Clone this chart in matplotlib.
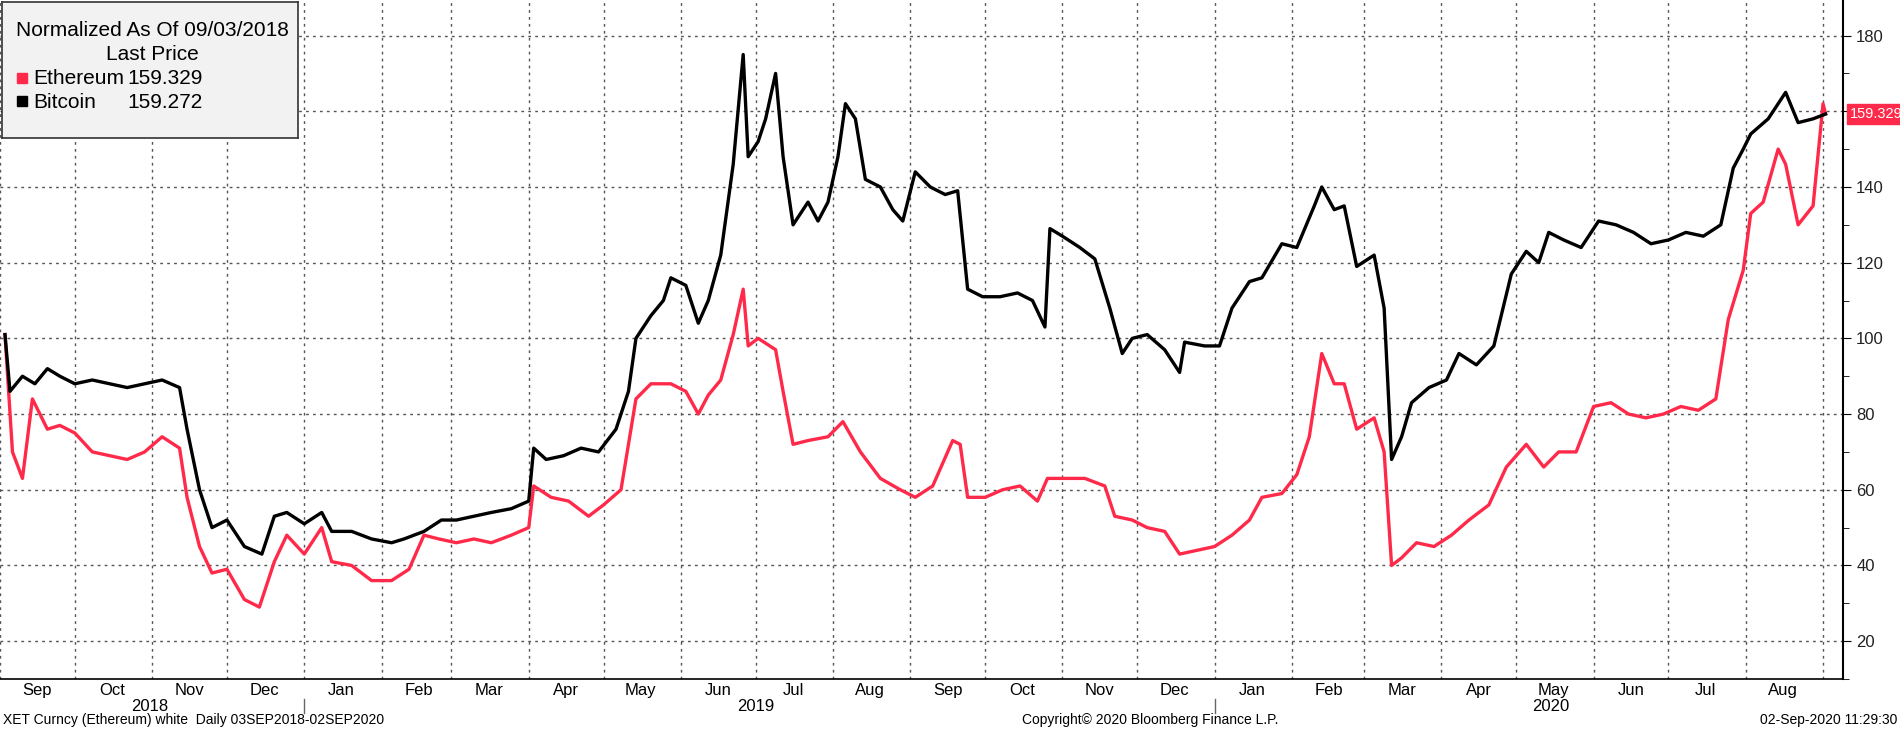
import matplotlib
matplotlib.use("Agg")
import matplotlib.pyplot as plt
import matplotlib.dates as mdates
import pandas as pd

plt.rcParams["font.family"] = "Liberation Sans"

btc_dates = ["2018-09-03","2018-09-05","2018-09-10","2018-09-15","2018-09-20","2018-09-25","2018-10-01","2018-10-08","2018-10-15","2018-10-22","2018-10-29","2018-11-05","2018-11-12","2018-11-15","2018-11-20","2018-11-25","2018-12-01","2018-12-08","2018-12-15","2018-12-20","2018-12-25","2019-01-01","2019-01-08","2019-01-12","2019-01-20","2019-01-28","2019-02-05","2019-02-10","2019-02-18","2019-02-25","2019-03-03","2019-03-10","2019-03-17","2019-03-25","2019-04-01","2019-04-03","2019-04-08","2019-04-15","2019-04-22","2019-04-29","2019-05-06","2019-05-11","2019-05-14","2019-05-20","2019-05-25","2019-05-28","2019-06-03","2019-06-08","2019-06-12","2019-06-17","2019-06-22","2019-06-26","2019-06-28","2019-07-02","2019-07-05","2019-07-09","2019-07-12","2019-07-16","2019-07-22","2019-07-26","2019-07-30","2019-08-03","2019-08-06","2019-08-10","2019-08-14","2019-08-20","2019-08-25","2019-08-29","2019-09-03","2019-09-09","2019-09-15","2019-09-20","2019-09-24","2019-09-30","2019-10-07","2019-10-14","2019-10-20","2019-10-25","2019-10-27","2019-11-01","2019-11-08","2019-11-14","2019-11-20","2019-11-25","2019-11-29","2019-12-05","2019-12-12","2019-12-18","2019-12-20","2019-12-28","2020-01-03","2020-01-08","2020-01-15","2020-01-20","2020-01-28","2020-02-03","2020-02-10","2020-02-13","2020-02-18","2020-02-22","2020-02-27","2020-03-05","2020-03-09","2020-03-12","2020-03-16","2020-03-20","2020-03-27","2020-04-03","2020-04-08","2020-04-15","2020-04-22","2020-04-29","2020-05-05","2020-05-10","2020-05-14","2020-05-20","2020-05-27","2020-06-03","2020-06-10","2020-06-17","2020-06-24","2020-07-01","2020-07-08","2020-07-15","2020-07-22","2020-07-27","2020-07-31","2020-08-03","2020-08-10","2020-08-17","2020-08-22","2020-08-28","2020-09-02"]
btc_values = [101,86,90,88,92,90,88,89,88,87,88,89,87,76,60,50,52,45,43,53,54,51,54,49,49,47,46,47,49,52,52,53,54,55,57,71,68,69,71,70,76,86,100,106,110,116,114,104,110,122,146,175,148,152,158,170,148,130,136,131,136,148,162,158,142,140,134,131,144,140,138,139,113,111,111,112,110,103,129,127,124,121,108,96,100,101,97,91,99,98,98,108,115,116,125,124,135,140,134,135,119,122,108,68,74,83,87,89,96,93,98,117,123,120,128,126,124,131,130,128,125,126,128,127,130,145,150,154,158,165,157,158,159.272]

eth_dates = ["2018-09-03","2018-09-06","2018-09-10","2018-09-14","2018-09-20","2018-09-25","2018-10-01","2018-10-08","2018-10-15","2018-10-22","2018-10-29","2018-11-05","2018-11-12","2018-11-15","2018-11-20","2018-11-25","2018-12-01","2018-12-08","2018-12-14","2018-12-20","2018-12-25","2019-01-01","2019-01-08","2019-01-12","2019-01-20","2019-01-28","2019-02-05","2019-02-12","2019-02-18","2019-02-24","2019-03-03","2019-03-10","2019-03-17","2019-03-25","2019-04-01","2019-04-03","2019-04-10","2019-04-17","2019-04-25","2019-05-01","2019-05-08","2019-05-14","2019-05-20","2019-05-28","2019-06-03","2019-06-08","2019-06-12","2019-06-17","2019-06-22","2019-06-26","2019-06-28","2019-07-02","2019-07-09","2019-07-12","2019-07-16","2019-07-22","2019-07-30","2019-08-05","2019-08-12","2019-08-20","2019-08-28","2019-09-03","2019-09-10","2019-09-18","2019-09-21","2019-09-24","2019-10-01","2019-10-08","2019-10-15","2019-10-22","2019-10-26","2019-11-03","2019-11-10","2019-11-18","2019-11-22","2019-11-29","2019-12-05","2019-12-12","2019-12-18","2019-12-25","2020-01-01","2020-01-08","2020-01-15","2020-01-20","2020-01-28","2020-02-03","2020-02-08","2020-02-13","2020-02-18","2020-02-22","2020-02-27","2020-03-05","2020-03-09","2020-03-12","2020-03-16","2020-03-22","2020-03-29","2020-04-05","2020-04-12","2020-04-20","2020-04-27","2020-05-05","2020-05-12","2020-05-18","2020-05-25","2020-06-01","2020-06-08","2020-06-15","2020-06-22","2020-06-29","2020-07-06","2020-07-13","2020-07-20","2020-07-25","2020-07-31","2020-08-03","2020-08-08","2020-08-14","2020-08-17","2020-08-22","2020-08-28","2020-09-01","2020-09-02"]
eth_values = [101,70,63,84,76,77,75,70,69,68,70,74,71,58,45,38,39,31,29,41,48,43,50,41,40,36,36,39,48,47,46,47,46,48,50,61,58,57,53,56,60,84,88,88,86,80,85,89,101,113,98,100,97,86,72,73,74,78,70,63,60,58,61,73,72,58,58,60,61,57,63,63,63,61,53,52,50,49,43,44,45,48,52,58,59,64,74,96,88,88,76,79,70,40,42,46,45,48,52,56,66,72,66,70,70,82,83,80,79,80,82,81,84,105,118,133,136,150,146,130,135,162,159.329]

yticks = [20,40,60,80,100,120,140,160,180]
ytick_labels = ["20","40","60","80","100","120","140","","180"]
months = ["Sep","Oct","Nov","Dec","Jan","Feb","Mar","Apr","May","Jun","Jul","Aug"]

RED = "#ff2a4a"
fig = plt.figure(figsize=(19, 7.29), dpi=100)
ax = fig.add_axes([0.0, 1-679/729, 1843/1900, 679/729])
bd = pd.to_datetime(btc_dates); ed = pd.to_datetime(eth_dates)
ax.plot(ed, eth_values, color=RED, lw=2.4, zorder=3)
ax.plot(bd, btc_values, color="black", lw=2.4, zorder=4)
ax.set_ylim(14, 189.4)
ax.set_xlim(pd.Timestamp("2018-09-01"), pd.Timestamp("2020-09-09"))
ax.yaxis.tick_right()
ax.set_yticks(yticks)
ax.set_yticklabels(ytick_labels)
ax.set_yticks(range(10, 190, 10), minor=True)
ax.tick_params(axis="y", which="both", direction="out", length=6, labelsize=12, labelcolor="#222222")
ax.tick_params(axis="y", which="minor", length=4)
ax.grid(True, axis="both", which="major", linestyle=(0, (2, 3)), color="#555555", lw=1)
ax.xaxis.set_major_locator(mdates.MonthLocator())
ax.xaxis.set_major_formatter(plt.NullFormatter())
ax.tick_params(axis="x", length=0)
for s in ["top", "left"]:
    ax.spines[s].set_visible(False)
ax.spines["right"].set_linewidth(1.5)
ax.spines["bottom"].set_linewidth(1.2)

for y in (2018, 2019, 2020):
    for m in range(1, 13):
        start = pd.Timestamp(y, m, 1)
        if start < pd.Timestamp("2018-09-01") or start > pd.Timestamp("2020-08-01"):
            continue
        mid = start + pd.Timedelta(days=15)
        ax.text(mid, -0.017, months[(m - 9) % 12], transform=ax.get_xaxis_transform(),
                ha="center", va="center", fontsize=12)
for y, xd in ((2018, "2018-10-31"), (2019, "2019-07-01"), (2020, "2020-05-15")):
    ax.text(pd.Timestamp(xd), -0.04, str(y), transform=ax.get_xaxis_transform(),
            ha="center", va="center", fontsize=12)
for xd in ("2019-01-01", "2020-01-01"):
    ax.plot([pd.Timestamp(xd)]*2, [-0.03, -0.05], transform=ax.get_xaxis_transform(),
            color="#666666", lw=1, clip_on=False)

ax.annotate("159.329", xy=(1.0, 159.329), xycoords=ax.get_yaxis_transform(),
            xytext=(5, 0), textcoords="offset points", ha="left", va="center",
            fontsize=10.5, color="white",
            bbox=dict(boxstyle="square,pad=0.2", fc=RED, ec=RED))

leg = fig.add_axes([2/1900, 1-138/729, 296/1900, 136/729])
leg.set_xticks([]); leg.set_yticks([])
leg.set_facecolor("#f2f2f2")
for s in leg.spines.values():
    s.set_color("#333333"); s.set_linewidth(1.2)
leg.set_xlim(0, 296); leg.set_ylim(136, 0)
fs = 15
leg.text(150, 28, "Normalized As Of 09/03/2018", ha="center", va="center", fontsize=fs)
leg.text(150, 53, "Last Price", ha="center", va="center", fontsize=fs)
leg.add_patch(plt.Rectangle((15, 71), 10, 10, color=RED))
leg.text(31, 77, "Ethereum", ha="left", va="center", fontsize=fs)
leg.text(125, 77, "159.329", ha="left", va="center", fontsize=fs)
leg.add_patch(plt.Rectangle((15, 94), 10, 10, color="black"))
leg.text(31, 100, "Bitcoin", ha="left", va="center", fontsize=fs)
leg.text(125, 100, "159.272", ha="left", va="center", fontsize=fs)

fig.text(3/1900, 9/729, "XET Curncy (Ethereum) white  Daily 03SEP2018-02SEP2020", fontsize=10, va="center")
fig.text(1150/1900, 9/729, "Copyright© 2020 Bloomberg Finance L.P.", fontsize=10, va="center", ha="center")
fig.text(1897/1900, 9/729, "02-Sep-2020 11:29:30", fontsize=10, va="center", ha="right")
fig.savefig("out.png", dpi=100)
